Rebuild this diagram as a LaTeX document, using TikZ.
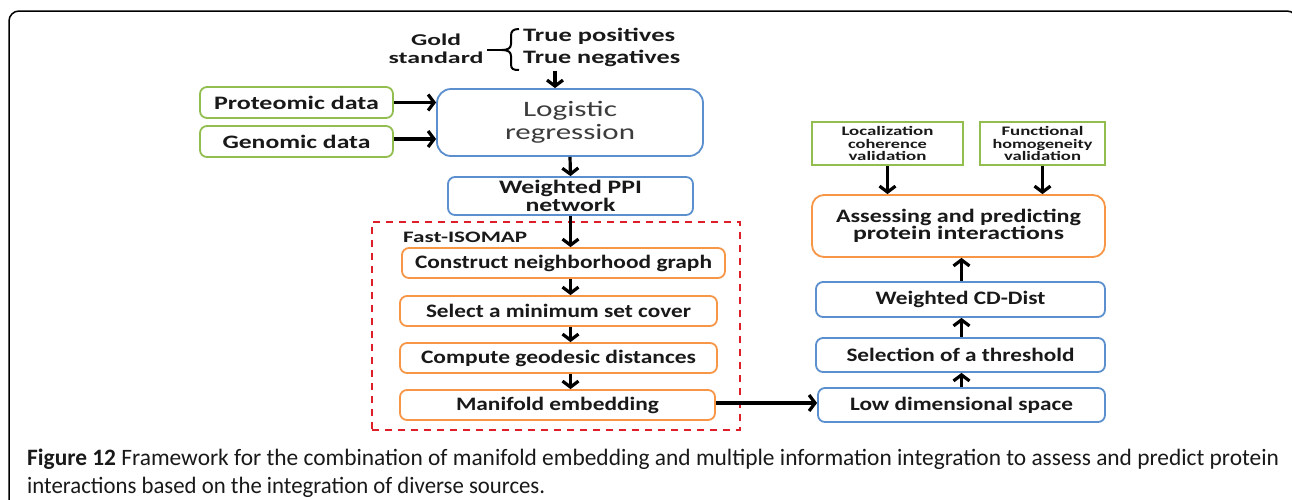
\documentclass[tikz,border=0pt]{standalone}
\usepackage{fontspec}
\setmainfont{Carlito}
\usepackage{graphicx}
\usetikzlibrary{arrows.meta}
\definecolor{bblue}{RGB}{91,143,205}
\definecolor{borange}{RGB}{247,150,70}
\definecolor{bgreen}{RGB}{146,190,80}
\definecolor{bred}{RGB}{222,30,40}
\definecolor{txt}{RGB}{25,25,25}
\definecolor{lrtxt}{RGB}{60,60,60}
\newsavebox{\fitbx}
\newcommand{\fitw}[2]{\sbox{\fitbx}{#2}\pgfmathsetmacro{\fitr}{#1/\the\wd\fitbx}\scalebox{\fitr}[1]{\usebox{\fitbx}}}
\begin{document}
\begin{tikzpicture}[x=1pt,y=-1pt,
  box/.style={draw, line width=1.8pt, rounded corners=7pt, inner sep=0pt, align=center, text=txt},
  bluebox/.style={box, draw=bblue},
  orbox/.style={box, draw=borange},
  grbox/.style={box, draw=bgreen},
  sqbox/.style={box, draw=bgreen, rounded corners=0pt},
  arr/.style={line width=3.2pt, -{Straight Barb[length=6pt,width=16pt]}},
  lbl/.style={inner sep=0pt, text=txt}]
\clip (0,0) rectangle (1292,499);
\useasboundingbox (0,0) rectangle (1292,499);
\fill[white] (0,0) rectangle (1292,499);
% outer frame
\draw[line width=1.5pt, rounded corners=10pt] (9,11) rectangle (1297,520);

% gold standard
\node[lbl, align=center, font=\bfseries\fontsize{16.5}{18}\selectfont] (gold) at (436,48.5) {\fitw{50}{Gold}\\\fitw{95}{standard}};
\node[lbl, anchor=west, align=left, font=\bfseries\fontsize{19}{22}\selectfont] (tpn) at (523,47) {\fitw{152}{True positives}\\\fitw{157}{True negatives}};
\coordinate (btop) at (519,29);
\coordinate (btip) at (502,50);
\coordinate (bbot) at (519,70);
\coordinate (tick) at (487,50);
\draw[line width=2pt] (btop) .. controls (513,29) and (511,31) .. (511,36) -- (511,44) .. controls (511,48) and (508,50) .. (btip) .. controls (508,50) and (511,52) .. (511,56) -- (511,64) .. controls (511,69) and (513,70) .. (bbot);
\draw[line width=2pt] (tick) -- (btip);

% left inputs
\node[grbox, minimum width=193pt, minimum height=31pt, font=\bfseries\fontsize{19}{20}\selectfont] (prot) at (296.5,102.5) {\fitw{165}{Proteomic data}};
\node[grbox, minimum width=193pt, minimum height=31pt, font=\bfseries\fontsize{19}{20}\selectfont] (gen) at (296.5,141.5) {\fitw{148}{Genomic data}};

% logistic regression
\node[bluebox, rounded corners=14pt, minimum width=266pt, minimum height=67pt, text=lrtxt, font=\fontsize{22}{22.5}\selectfont] (lr) at (570,122.5) {\fitw{94}{Logistic}\\\fitw{130}{regression}};
\node[bluebox, minimum width=245pt, minimum height=38pt, font=\bfseries\fontsize{19}{18}\selectfont] (ppi) at (570.5,196) {\fitw{143}{Weighted PPI}\\\fitw{90}{network}};

\coordinate (gin) at (555,71);
\draw[arr] (gin) -- (gin |- lr.north);
\draw[arr] (prot.east) -- (prot.east -| lr.west);
\draw[arr] (gen.east |- 0,139) -- (lr.west |- 0,139);
\draw[arr] (lr.south) -- (ppi.north);

% Fast-ISOMAP
\node[draw=bred, line width=2.8pt, dash pattern=on 7pt off 6pt, minimum width=368pt, minimum height=208pt, inner sep=0pt] (iso) at (556,326) {};
\node[lbl, anchor=west, font=\bfseries\fontsize{16}{15}\selectfont] (fi) at (403,237) {\fitw{124}{Fast-ISOMAP}};
\node[orbox, minimum width=323pt, minimum height=30pt, font=\bfseries\fontsize{19}{17}\selectfont] (cng) at (563.5,263) {\fitw{297}{Construct neighborhood graph}};
\node[orbox, minimum width=317pt, minimum height=30pt, font=\bfseries\fontsize{19}{17}\selectfont] (sel) at (558.5,311) {\fitw{265}{Select a minimum set cover}};
\node[orbox, minimum width=317pt, minimum height=30pt, font=\bfseries\fontsize{19}{17}\selectfont] (geo) at (558.5,358) {\fitw{275}{Compute geodesic distances}};
\node[orbox, minimum width=315pt, minimum height=30pt, font=\bfseries\fontsize{19}{17}\selectfont] (me) at (557.5,405) {\fitw{203}{Manifold embedding}};

\draw[arr] (ppi.south) -- (ppi.south |- cng.north);
\draw[arr] (cng.south -| ppi.south) -- (sel.north -| ppi.south);
\draw[arr] (sel.south -| ppi.south) -- (geo.north -| ppi.south);
\draw[arr] (geo.south -| ppi.south) -- (me.north -| ppi.south);

% right side
\node[sqbox, line width=1.6pt, minimum width=151pt, minimum height=43pt, font=\bfseries\fontsize{13}{12.5}\selectfont] (loc) at (887.5,143.5) {\fitw{92}{Localization}\\\fitw{79}{coherence}\\\fitw{78}{validation}};
\node[sqbox, line width=1.6pt, minimum width=125pt, minimum height=43pt, font=\bfseries\fontsize{13}{12.5}\selectfont] (fun) at (1042.5,143.5) {\fitw{82}{Functional}\\\fitw{100}{homogeneity}\\\fitw{77}{validation}};
\node[orbox, rounded corners=12pt, minimum width=293pt, minimum height=62pt, font=\bfseries\fontsize{19}{17}\selectfont] (apd) at (958.5,226) {\fitw{245}{Assessing and predicting}\\\fitw{211}{protein interactions}};
\node[bluebox, minimum width=289pt, minimum height=35pt, font=\bfseries\fontsize{19}{17}\selectfont] (cdd) at (960.5,299.5) {\fitw{170}{Weighted CD-Dist}};
\node[bluebox, minimum width=289pt, minimum height=34pt, font=\bfseries\fontsize{19}{17}\selectfont] (thr) at (960.5,355) {\fitw{228}{Selection of a threshold}};
\node[bluebox, minimum width=287pt, minimum height=34pt, font=\bfseries\fontsize{19}{17}\selectfont] (low) at (961.5,405) {\fitw{223}{Low dimensional space}};

\draw[arr] (me.east |- 0,403) -- (low.west |- 0,403);
\draw[arr] (low.north) -- (low.north |- thr.south);
\draw[arr] (thr.north -| low.north) -- (cdd.south -| low.north);
\draw[arr] (cdd.north -| low.north) -- (apd.south -| low.north);
\draw[arr] (loc.south) -- (loc.south |- apd.north);
\draw[arr] (fun.south) -- (fun.south |- apd.north);

% caption
\node[lbl, anchor=base west, font=\fontsize{23.5}{22}\selectfont] (cap1) at (27,465) {\fitw{1252}{\textbf{Figure 12} Framework for the combination of manifold embedding and multiple information integration to assess and predict protein}};
\node[lbl, anchor=base west, font=\fontsize{23.5}{22}\selectfont] (cap2) at (27,493) {\fitw{518}{interactions based on the integration of diverse sources.}};
\end{tikzpicture}
\end{document}
